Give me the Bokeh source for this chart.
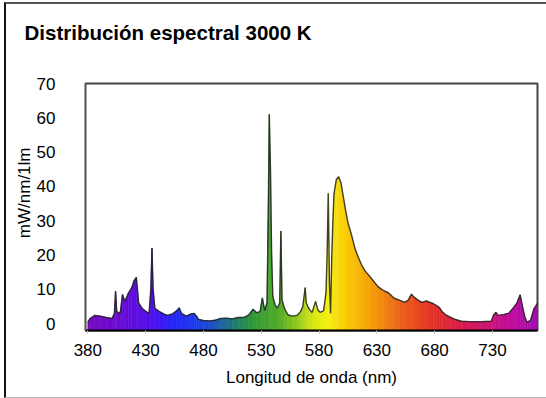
from bokeh.embed import file_html
from bokeh.layouts import column
from bokeh.models import ColumnDataSource, FixedTicker, Range1d, Title
from bokeh.plotting import figure
from bokeh.resources import INLINE

# Spectral power distribution, 3000 K lamp (mW/nm/1lm)
wavelength_nm = [
    380, 382, 386, 391, 396, 401, 403, 404, 405, 408, 410, 412, 415, 418, 420,
    422, 424, 427, 430, 433, 434.5, 435.5, 436.5, 438, 442, 446, 449, 453, 457,
    459, 461, 465, 469, 472, 474, 476, 480, 485, 490, 495, 500, 505, 510, 515,
    519, 523, 526, 529, 531, 533, 535, 536, 537, 538, 539, 540, 542, 544, 546,
    547, 548, 550, 553, 557, 561, 564, 566, 568, 569, 571, 574, 577, 579, 581,
    584, 586, 587, 588, 589, 590, 591, 592, 593, 595, 597, 599, 601, 603, 605,
    608, 611, 614, 617, 620, 625, 631, 636, 640, 645, 650, 654, 657, 660, 662,
    665, 669, 673, 676, 679, 682, 684, 687, 690, 694, 698, 703, 710, 720, 729,
    731, 733, 735, 740, 744, 748, 751, 754, 756, 758, 760, 763, 766, 769, 771,
]
power = [
    0.5, 1.5, 2.4, 2.2, 1.8, 1.5, 3.0, 9.5, 3.5, 3.0, 8.5, 6.5, 8.8, 10.5, 12.5,
    13.5, 6.0, 4.5, 3.6, 3.0, 10.0, 22.0, 10.0, 4.5, 3.5, 2.8, 2.4, 2.8, 3.8,
    4.6, 3.0, 2.2, 2.8, 3.0, 2.2, 1.2, 0.9, 0.8, 1.0, 1.5, 1.6, 1.4, 1.8, 1.8,
    2.5, 4.2, 3.2, 3.5, 7.5, 3.8, 6.0, 30.0, 61.0, 45.0, 20.0, 8.0, 5.5, 4.5, 6.0,
    27.0, 7.0, 4.5, 2.6, 2.2, 2.4, 3.5, 5.0, 10.5, 6.0, 4.5, 3.2, 6.5, 4.0, 3.3,
    3.8, 9.0, 20.0, 38.0, 12.0, 3.0, 19.0, 30.0, 38.0, 42.0, 42.8, 41.0, 37.0, 33.0, 29.5,
    26.0, 22.0, 19.3, 17.0, 15.3, 13.3, 10.8, 9.6, 9.0, 7.4, 6.8, 6.2, 6.8, 8.6, 7.8,
    7.0, 6.2, 6.6, 6.2, 5.8, 5.2, 4.7, 3.3, 2.5, 1.8, 1.2, 0.7, 0.6, 0.6, 0.7,
    2.5, 3.3, 2.4, 2.7, 3.0, 4.6, 5.9, 8.4, 5.0, 2.0, 0.4, 1.0, 4.4, 5.9, 6.0,
]
x_ticks = [380, 430, 480, 530, 580, 630, 680, 730]
y_ticks = [0, 10, 20, 30, 40, 50, 60, 70]

TITLE = "Distribución espectral 3000 K"
X_LABEL = "Longitud de onda (nm)"
Y_LABEL = "mW/nm/1lm"

FONT = "Liberation Sans"

# colour stops used to tint the area under the curve by wavelength
COLOR_STOPS = [
    (378, (120, 10, 190)), (410, (105, 10, 215)), (435, (80, 15, 235)),
    (455, (35, 40, 250)), (475, (30, 60, 235)), (495, (30, 95, 170)),
    (510, (35, 130, 100)), (525, (50, 155, 50)), (545, (80, 170, 40)),
    (560, (140, 200, 30)), (575, (215, 230, 20)), (588, (245, 240, 15)),
    (600, (250, 210, 5)), (625, (245, 160, 10)), (650, (235, 100, 25)),
    (675, (228, 55, 35)), (700, (220, 30, 70)), (725, (205, 20, 115)),
    (750, (190, 10, 160)), (770, (160, 15, 175)),
]


def spectrum_color(nm):
    if nm <= COLOR_STOPS[0][0]:
        r, g, b = COLOR_STOPS[0][1]
    elif nm >= COLOR_STOPS[-1][0]:
        r, g, b = COLOR_STOPS[-1][1]
    else:
        for (w0, c0), (w1, c1) in zip(COLOR_STOPS[:-1], COLOR_STOPS[1:]):
            if w0 <= nm <= w1:
                t = (nm - w0) / (w1 - w0)
                r, g, b = (c0[k] + (c1[k] - c0[k]) * t for k in range(3))
                break
    return "#%02x%02x%02x" % (int(round(r)), int(round(g)), int(round(b)))


W = 540
HEAD_H = 55
y_start, y_end = -2, 70
x_start, x_end = 378, 769

# heading strip: an empty figure that only carries the title
head = figure(
    width=W, height=HEAD_H, x_range=Range1d(0, 1), y_range=Range1d(0, 1),
    output_backend="svg", toolbar_location=None,
    x_axis_location=None, y_axis_location=None,
    min_border_left=79, min_border_right=9, min_border_top=0, min_border_bottom=0,
    background_fill_color="white", border_fill_color="white",
)
head.outline_line_color = None
head.grid.visible = False
head.title.text = TITLE
head.title.align = "left"
head.title.offset = -61
head.title.standoff = 28
head.title.text_font = FONT
head.title.text_font_size = "20.5px"
head.title.text_font_style = "bold"
head.title.text_color = "black"

p = figure(
    width=W, height=393 - HEAD_H,
    x_range=Range1d(x_start, x_end), y_range=Range1d(y_start, y_end),
    output_backend="svg", toolbar_location=None,
    min_border_left=79, min_border_right=9, min_border_top=24, min_border_bottom=67,
    background_fill_color="white", border_fill_color="white",
)

# area under the curve: one slab per sample interval, coloured by wavelength
xs, ys, colors = [], [], []
for i in range(len(wavelength_nm) - 1):
    x0, x1 = wavelength_nm[i], wavelength_nm[i + 1]
    v0, v1 = power[i], power[i + 1]
    xs.append([x0, x1, x1, x0])
    ys.append([y_start, y_start, v1, v0])
    colors.append(spectrum_color((x0 + x1) / 2))
p.patches(xs="xs", ys="ys", source=ColumnDataSource(dict(xs=xs, ys=ys, c=colors)),
          fill_color="c", line_color="c", line_width=0.6)

p.line(wavelength_nm, power, line_color="#222222", line_width=1.4, line_alpha=0.85)

p.grid.visible = False
p.outline_line_color = "#444444"
p.outline_line_width = 2

xa = p.xaxis[0]
xa.ticker = FixedTicker(ticks=x_ticks)
xa.axis_label = X_LABEL
xa.axis_label_text_font = FONT
xa.axis_label_text_font_size = "17px"
xa.axis_label_text_font_style = "normal"
xa.axis_label_text_color = "black"
xa.axis_label_standoff = 9
xa.major_label_text_font = FONT
xa.major_label_text_font_size = "17px"
xa.major_label_text_color = "black"
xa.major_label_standoff = 10
xa.axis_line_color = "black"
xa.axis_line_width = 2
xa.major_tick_line_color = "#bbbbbb"
xa.major_tick_in = 0
xa.major_tick_out = 3
xa.minor_tick_line_color = None

ya = p.yaxis[0]
ya.ticker = FixedTicker(ticks=y_ticks)
ya.major_label_text_font = FONT
ya.major_label_text_font_size = "17px"
ya.major_label_text_color = "black"
ya.major_label_standoff = 24
ya.axis_line_color = "#555555"
ya.major_tick_line_color = None
ya.minor_tick_line_color = None

# rotated unit label on the left side, anchored toward the top of the frame
p.add_layout(Title(
    text=Y_LABEL, align="right", offset=64, standoff=0,
    text_font=FONT, text_font_size="17px", text_font_style="normal",
    text_color="black",
), "left")

page = column(head, p, spacing=0)
page.styles = {
    "margin-left": "4px", "margin-top": "2px",
    "border-top": "2px solid #555", "border-left": "2px solid #111",
    "border-bottom": "1px solid #bbb",
}

open("out.html", "w").write(file_html(page, INLINE))
